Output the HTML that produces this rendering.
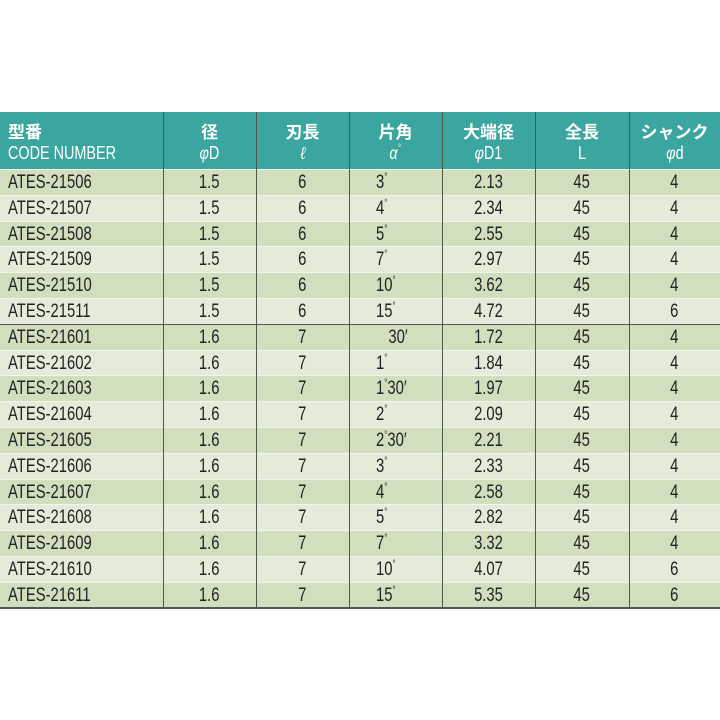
<!DOCTYPE html>
<html><head><meta charset="utf-8"><style>
body{margin:0;width:720px;height:720px;background:#fff;overflow:hidden;font-family:"Liberation Sans","Noto Sans CJK JP",sans-serif;}
#t{position:absolute;left:0;top:112px;width:720px;}
.hd{position:absolute;left:0;top:0;width:720px;height:57px;background:#3ba69f;color:#fff;}
.r{position:absolute;left:0;width:720px;height:26px;color:#222;font-size:19px;line-height:26px;}
.c{position:absolute;top:0;text-align:center;white-space:nowrap;}
.n{display:inline-block;transform:scaleX(.78);}
.v{position:absolute;top:0;width:1px;background:#4a5a4a;}
sup{font-size:10px;position:relative;top:-8px;vertical-align:baseline;line-height:0;}
.h1{position:absolute;top:8px;font-size:17px;line-height:21px;text-align:center;white-space:nowrap;}
.hs{display:inline-block;transform:scaleX(.8);font-family:"Liberation Sans",sans-serif;font-weight:normal;font-size:18px;}
.j{font-family:"Noto Sans CJK JP",sans-serif;font-weight:bold;font-size:17px;}
</style></head><body>
<div id="t">
<div class="hd">
<div class="h1" style="left:8px;text-align:left"><span class="j">型番</span></div>
<div class="h1" style="left:8px;top:31px;text-align:left"><span class="hs" style="transform-origin:left">CODE NUMBER</span></div>
<div class="h1" style="left:163px;width:93px"><span class="j">径</span><br><span class="hs"><i>φ</i>D</span></div>
<div class="h1" style="left:256px;width:93px"><span class="j">刃長</span><br><span class="hs" style="font-style:italic;font-family:'Liberation Serif',serif">ℓ</span></div>
<div class="h1" style="left:349px;width:93px"><span class="j">片角</span><br><span class="hs" style="font-style:italic">α<sup>°</sup></span></div>
<div class="h1" style="left:442px;width:93px"><span class="j">大端径</span><br><span class="hs"><i>φ</i>D1</span></div>
<div class="h1" style="left:535px;width:94px"><span class="j">全長</span><br><span class="hs">L</span></div>
<div class="h1" style="left:629px;width:91px"><span class="j">シャンク</span><br><span class="hs"><i>φ</i>d</span></div>
</div>
<div id="rows"></div>
</div>
<script>
var d=[["ATES-21506","1.5","6","3°","2.13","45","4"],["ATES-21507","1.5","6","4°","2.34","45","4"],["ATES-21508","1.5","6","5°","2.55","45","4"],["ATES-21509","1.5","6","7°","2.97","45","4"],["ATES-21510","1.5","6","10°","3.62","45","4"],["ATES-21511","1.5","6","15°","4.72","45","6"],["ATES-21601","1.6","7","   30′","1.72","45","4"],["ATES-21602","1.6","7","1°","1.84","45","4"],["ATES-21603","1.6","7","1°30′","1.97","45","4"],["ATES-21604","1.6","7","2°","2.09","45","4"],["ATES-21605","1.6","7","2°30′","2.21","45","4"],["ATES-21606","1.6","7","3°","2.33","45","4"],["ATES-21607","1.6","7","4°","2.58","45","4"],["ATES-21608","1.6","7","5°","2.82","45","4"],["ATES-21609","1.6","7","7°","3.32","45","4"],["ATES-21610","1.6","7","10°","4.07","45","6"],["ATES-21611","1.6","7","15°","5.35","45","6"]];
var xs=[0,163,256,349,442,535,629,720],h='';
d.forEach(function(r,i){
 var top=57+i*25.8;
 h+='<div class="r" style="top:'+top+'px;background:'+(i%2?'#e4ecd9':'#d2dfbf')+';border-top:1px solid '+(i==6?'#555':'#f2f5ec')+'">';
 h+='<div class="c" style="left:8px;text-align:left"><span class="n" style="transform-origin:left">'+r[0]+'</span></div>';
 for(var k=1;k<7;k++){
  var t=r[k];
  if(k==3){t=t.replace(/ /g,'&nbsp;').replace(/°/g,'<sup>°</sup>');h+='<div class="c" style="left:376px;text-align:left"><span class="n" style="transform-origin:left">'+t+'</span></div>';}
  else h+='<div class="c" style="left:'+xs[k]+'px;width:'+(xs[k+1]-xs[k])+'px"><span class="n">'+t+'</span></div>';
 }
 h+='</div>';
});
for(var k=1;k<7;k++)h+='<div class="v" style="left:'+xs[k]+'px;height:495px"></div>';
h+='<div style="position:absolute;left:0;top:495px;width:720px;height:2px;background:#555"></div>';
document.getElementById('rows').innerHTML=h;
</script>
</body></html>
